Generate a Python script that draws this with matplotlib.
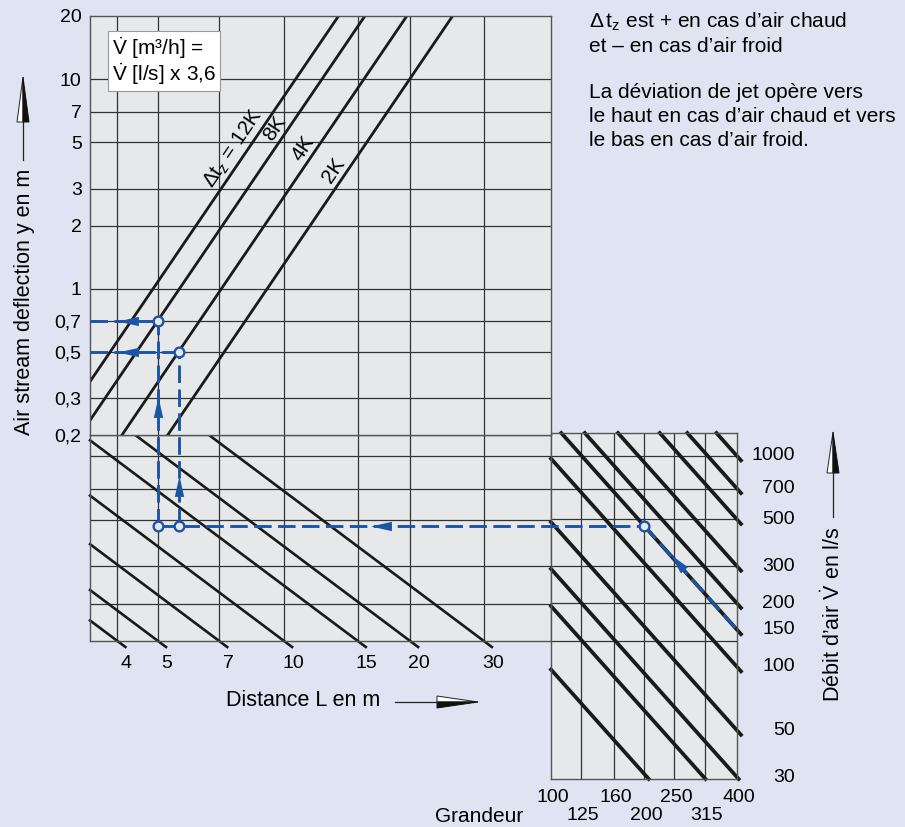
# Abaque : déviation du jet d'air selon la distance, le débit et la grandeur

import numpy as np
import matplotlib.pyplot as plt
from matplotlib.lines import Line2D
from matplotlib.patches import Polygon
from matplotlib.markers import MarkerStyle
from matplotlib.path import Path
from matplotlib.ticker import NullLocator
from matplotlib.transforms import Affine2D, ScaledTranslation, blended_transform_factory

plt.rcParams['font.family'] = ['Liberation Sans', 'DejaVu Sans']
plt.rcParams['mathtext.fontset'] = 'custom'
plt.rcParams['mathtext.rm'] = 'Liberation Sans'
plt.rcParams['mathtext.it'] = 'Liberation Sans:italic'
plt.rcParams['mathtext.bf'] = 'Liberation Sans:bold'

#---------------------- DONNEES -------------------------#

# Panneau haut : droites Δtz (déviation y en m)
dt_labels = ['Δt$_\\mathrm{z}$ = 12K', '8K', '4K', '2K']
dt_x1 = [4.87, 5.63, 7.09, 9.12]      # abscisse où la droite passe par y = 1 m
dt_label_y = [4.33, 5.4, 4.36, 3.4]   # hauteur des étiquettes le long des droites
dt_pente = 2.94
y_ticks = [20, 10, 7, 5, 3, 2, 1, 0.7, 0.5, 0.3, 0.2]
y_ticklabels = ['20', '10', '7', '5', '3', '2', '1', '0,7', '0,5', '0,3', '0,2']

# Panneau bas gauche : droites de distance L en m
distances = [4, 5, 7, 10, 15, 20, 30]
dist_pente = 1.486

# Panneau bas droite : débit d'air en l/s selon la grandeur
grandeurs = [100, 125, 160, 200, 250, 315, 400]
debits = [10, 20, 30, 50, 100, 150, 200, 300, 500, 700, 1000]
debits_etiquetes = [30, 50, 100, 150, 200, 300, 500, 700, 1000]
debit_pente = 1.64
q_grille = [1000, 700, 500, 300, 200]

# Exemple (tracé bleu)
ex_grandeur = 200
ex_debit = 150
ex_dt = [1, 2]          # droites 8K et 4K
ex_y = [0.7, 0.5]

# Limites des axes
x_lim = (3.44, 43.4)
y_lim = (0.2, 20)
q_lim_gauche = (133, 1257)
q_lim_droite = (29.4, 1285)
g_lim = (100, 400)

#---------------------- FIGURE -------------------------#

W, H = 905, 827
FOND = '#e0e4f2'
GRIS = '#e7e8ea'
BLEU = '#1d55a6'
NOIR = '#1a1a1a'
GRILLE = '#333333'

fig = plt.figure(figsize=(W / 100, H / 100), dpi=100, facecolor=FOND)


def rect(g, h, d, b):
    return [g / W, 1 - b / H, (d - g) / W, (b - h) / H]


def decal(dx, dy):
    # décalage en pixels
    return ScaledTranslation(dx / 100, dy / 100, fig.dpi_scale_trans)


ax_g = fig.add_axes(rect(90, 435, 551, 641))
ax_d = fig.add_axes(rect(551, 433, 737, 779))
ax_h = fig.add_axes(rect(90, 16, 551, 435))
ax_g.set_zorder(1)
ax_d.set_zorder(2)
ax_h.set_zorder(3)

for ax in (ax_h, ax_g, ax_d):
    ax.set_facecolor(GRIS)
    ax.set_xscale('log')
    ax.set_yscale('log')
    for s in ax.spines.values():
        s.set_color('#555555')
        s.set_linewidth(1.0)
    ax.xaxis.set_major_locator(NullLocator())
    ax.xaxis.set_minor_locator(NullLocator())
    ax.yaxis.set_major_locator(NullLocator())
    ax.yaxis.set_minor_locator(NullLocator())

ax_h.set_xlim(x_lim)
ax_h.set_ylim(y_lim)
ax_g.set_xlim(x_lim)
ax_g.set_ylim(q_lim_gauche)
ax_d.set_xlim(g_lim)
ax_d.set_ylim(q_lim_droite)

ax_h.set_yticks(y_ticks, y_ticklabels)
ax_h.yaxis.set_minor_locator(NullLocator())
ax_h.tick_params(axis='y', length=0, pad=6, labelsize=14)

# grilles
for v in distances:
    ax_h.axvline(v, color=GRILLE, lw=0.9, zorder=1)
    ax_g.axvline(v, color=GRILLE, lw=0.9, zorder=1)
for v in y_ticks[1:-1]:
    ax_h.axhline(v, color=GRILLE, lw=0.9, zorder=1)
for v in q_grille:
    ax_g.axhline(v, color=GRILLE, lw=0.9, zorder=1)
    ax_d.axhline(v, color=GRILLE, lw=0.9, zorder=1)
ax_d.axhline(q_lim_gauche[0], color=GRILLE, lw=0.9, zorder=1)
for g in grandeurs[1:-1]:
    ax_d.axvline(g, color=GRILLE, lw=0.9, zorder=1)

# droites Δtz
X = np.geomspace(x_lim[0], x_lim[1], 300)
for x1 in dt_x1:
    ax_h.plot(X, (X / x1) ** dt_pente, color=NOIR, lw=2.0, zorder=2)

for lab, x1, yl in zip(dt_labels, dt_x1, dt_label_y):
    xl = x1 * yl ** (1 / dt_pente)
    a = ax_h.transData.transform((xl, yl))
    b = ax_h.transData.transform((xl * 1.2, yl * 1.2 ** dt_pente))
    ang = np.degrees(np.arctan2(b[1] - a[1], b[0] - a[0]))
    r = np.radians(ang)
    ax_h.text(xl, yl, lab, rotation=ang, rotation_mode='anchor', ha='center', va='bottom',
              fontsize=15, transform=ax_h.transData + decal(-np.sin(r) * 2, np.cos(r) * 2))

# droites de distance L
for L in distances:
    x_deb = max(x_lim[0], L * (q_lim_gauche[0] / q_lim_gauche[1]) ** (1 / dist_pente))
    Xs = np.geomspace(x_deb, L * 1.045, 100)
    ax_g.plot(Xs, q_lim_gauche[0] * (L / Xs) ** dist_pente, color=NOIR, lw=1.9,
              clip_on=False, zorder=2)
    ax_g.text(L, q_lim_gauche[0], str(L), transform=ax_g.transData + decal(9, -22),
              ha='center', va='center', fontsize=14)

# droites de débit
g_ref = grandeurs[-1]
for V in debits:
    d_deb = max(g_lim[0], g_ref * (V / q_lim_droite[1]) ** (1 / debit_pente))
    d_fin = min(g_ref * 1.03, g_ref * (V / q_lim_droite[0]) ** (1 / debit_pente))
    D = np.geomspace(d_deb, d_fin, 100)
    ax_d.plot(D, V * (g_ref / D) ** debit_pente, color=NOIR, lw=2.7, clip_on=False, zorder=2)

trans_d = blended_transform_factory(ax_d.transAxes, ax_d.transData)
for V in debits_etiquetes:
    ax_d.text(1, V, str(V), transform=trans_d + decal(58, 0), ha='right', va='center', fontsize=14)

for i, g in enumerate(grandeurs):
    dy = -19 if i % 2 == 0 else -37
    ax_d.text(g, q_lim_droite[0], str(g), transform=ax_d.transData + decal(2, dy),
              ha='center', va='center', fontsize=14)

#---------------------- EXEMPLE BLEU -------------------------#


def fleche(angle):
    p = Path([(-1, 0), (1, 0.45), (1, -0.45), (-1, 0)], closed=True)
    return MarkerStyle(p, transform=Affine2D().rotate_deg(angle))


def vers(ax_src, pt, ax_dst):
    return ax_dst.transData.inverted().transform(ax_src.transData.transform(pt))


style = dict(color=BLEU, lw=2.1, dashes=(6, 2.2), clip_on=False, zorder=5)
rond = dict(marker='o', ms=7, mfc=GRIS, mec=BLEU, mew=1.7, ls='none', clip_on=False, zorder=7)
pointe = dict(ms=15, color=BLEU, mew=0, ls='none', clip_on=False, zorder=6)

q_h = ex_debit * (g_ref / ex_grandeur) ** debit_pente
X_ex = [dt_x1[i] * y ** (1 / dt_pente) for i, y in zip(ex_dt, ex_y)]

# le long de la droite de débit
D = np.geomspace(ex_grandeur, g_ref, 50)
ax_h.plot(D, ex_debit * (g_ref / D) ** debit_pente, transform=ax_d.transData, **style)
a = ax_d.transData.transform((g_ref, ex_debit))
b = ax_d.transData.transform((ex_grandeur, q_h))
phi = np.degrees(np.arctan2(b[1] - a[1], b[0] - a[0]))
ax_h.plot(255, ex_debit * (g_ref / 255) ** debit_pente, marker=fleche(phi - 180),
          transform=ax_d.transData, **pointe)

# horizontale vers la gauche
x_c = vers(ax_d, (ex_grandeur, q_h), ax_g)[0]
ax_h.plot([min(X_ex), x_c], [q_h, q_h], transform=ax_g.transData, **style)
ax_h.plot(17.0, q_h, marker=fleche(0), transform=ax_g.transData, **pointe)

# verticales puis horizontales vers l'axe y
for xe, ye in zip(X_ex, ex_y):
    y_bas = vers(ax_g, (xe, q_h), ax_h)[1]
    ax_h.plot([xe, xe], [y_bas, ye], **style)
    ax_h.plot([x_lim[0], xe], [ye, ye], **style)
    ax_h.plot(4.25, ye, marker=fleche(0), **pointe)
    ax_h.plot(xe, q_h, transform=ax_g.transData, **rond)
    ax_h.plot(xe, ye, **rond)
ax_h.plot(X_ex[0], 0.272, marker=fleche(-90), **pointe)
ax_h.plot(X_ex[1], 721, marker=fleche(-90), transform=ax_g.transData, **pointe)
ax_h.plot(ex_grandeur, q_h, transform=ax_d.transData, **rond)

#---------------------- TEXTES -------------------------#


def fleche_deco(S, B, T, n, w):
    conv = lambda p: (p[0] / W, 1 - p[1] / H)
    fig.add_artist(Line2D([S[0] / W, B[0] / W], [1 - S[1] / H, 1 - B[1] / H],
                          color='#222222', lw=0.9, transform=fig.transFigure))
    blanc = [T, (B[0] + n[0] * w, B[1] + n[1] * w), B]
    noir = [T, (B[0] - n[0] * w, B[1] - n[1] * w), B]
    fig.add_artist(Polygon([conv(p) for p in blanc], closed=True, fc='white', ec='#222222',
                           lw=0.7, transform=fig.transFigure))
    fig.add_artist(Polygon([conv(p) for p in noir], closed=True, fc='#111111', ec='#111111',
                           lw=0.7, transform=fig.transFigure))


fleche_deco((23, 160), (23, 122), (23, 77), (-1, 0), 6)
fleche_deco((833, 517), (833, 473), (833, 432), (-1, 0), 6)
fleche_deco((395, 702), (437, 702), (478, 702), (0, -1), 6)

fig.text(25 / W, 1 - 302 / H, 'Air stream deflection y en m', rotation=90,
         ha='center', va='center', fontsize=15.5)
fig.text(303 / W, 1 - 700 / H, 'Distance L en m', ha='center', va='center', fontsize=15.5)
fig.text(833 / W, 1 - 614 / H, 'Débit d’air $\\dot{\\mathrm{V}}$ en l/s', rotation=90,
         ha='center', va='center', fontsize=15.5)
fig.text(523 / W, 1 - 817 / H, 'Grandeur', ha='right', va='center', fontsize=15)

notes = ['$\\Delta\\,\\mathrm{t}_\\mathrm{z}$ est + en cas d’air chaud',
         'et – en cas d’air froid',
         'La déviation de jet opère vers',
         'le haut en cas d’air chaud et vers',
         'le bas en cas d’air froid.']
for txt, yb in zip(notes, [28, 52, 98, 122, 146]):
    fig.text(589 / W, 1 - yb / H, txt, ha='left', va='baseline', fontsize=15)

fig.text(112 / W, 1 - 61 / H, '$\\dot{\\mathrm{V}}$ [m³/h] =\n$\\dot{\\mathrm{V}}$ [l/s] x 3,6',
         ha='left', va='center', fontsize=15, linespacing=1.0,
         bbox=dict(boxstyle='square,pad=0.2', fc='white', ec='#999999', lw=0.8))

fig.savefig('out.png', dpi=100, facecolor=FOND)
